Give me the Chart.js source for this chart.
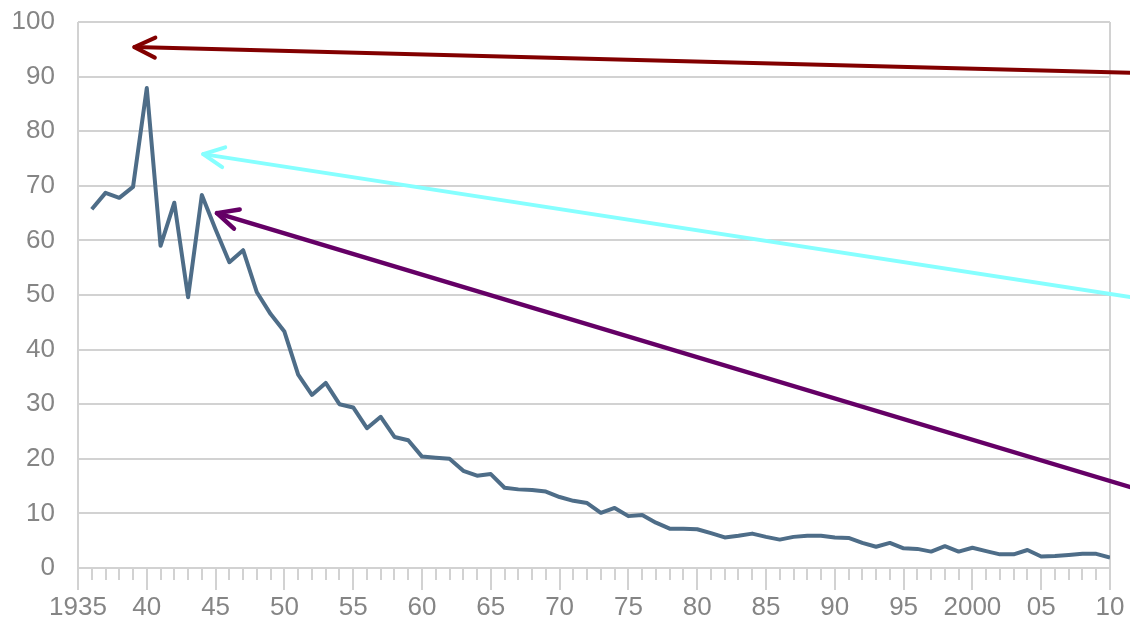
<!DOCTYPE html>
<html>
<head>
<meta charset="utf-8">
<title>Chart</title>
<script src="https://cdn.jsdelivr.net/npm/chart.js@4/dist/chart.umd.min.js"></script>
<style>
  body { margin: 0; background: #fff; }
  canvas { display: block; }
</style>
</head>
<body>
<canvas id="chart" width="1130" height="630"></canvas>
<script>
"use strict";

var $ = function(id) {
    return document.getElementById(id);
};

// values, one per year
var years = [1936, 1937, 1938, 1939, 1940, 1941, 1942, 1943, 1944, 1945,
             1946, 1947, 1948, 1949, 1950, 1951, 1952, 1953, 1954, 1955,
             1956, 1957, 1958, 1959, 1960, 1961, 1962, 1963, 1964, 1965,
             1966, 1967, 1968, 1969, 1970, 1971, 1972, 1973, 1974, 1975,
             1976, 1977, 1978, 1979, 1980, 1981, 1982, 1983, 1984, 1985,
             1986, 1987, 1988, 1989, 1990, 1991, 1992, 1993, 1994, 1995,
             1996, 1997, 1998, 1999, 2000, 2001, 2002, 2003, 2004, 2005,
             2006, 2007, 2008, 2009, 2010];
var values = [65.7, 68.7, 67.8, 69.8, 87.9, 59.0, 66.9, 49.6, 68.3, 62.0,
              56.0, 58.2, 50.5, 46.5, 43.3, 35.4, 31.7, 33.9, 30.0, 29.4,
              25.6, 27.7, 24.0, 23.4, 20.4, 20.2, 20.0, 17.8, 16.9, 17.2,
              14.7, 14.4, 14.3, 14.0, 13.0, 12.3, 11.9, 10.1, 11.0, 9.5,
              9.7, 8.3, 7.2, 7.2, 7.1, 6.4, 5.6, 5.9, 6.3, 5.7,
              5.2, 5.7, 5.9, 5.9, 5.6, 5.5, 4.6, 3.9, 4.6, 3.6,
              3.5, 3.0, 4.0, 3.0, 3.7, 3.1, 2.5, 2.5, 3.3, 2.1,
              2.2, 2.4, 2.6, 2.6, 1.9];

var xLabelYears = [1935, 1940, 1945, 1950, 1955, 1960, 1965, 1970, 1975, 1980,
                   1985, 1990, 1995, 2000, 2005, 2010];
var xLabelText = ['1935', '40', '45', '50', '55', '60', '65', '70', '75', '80',
                  '85', '90', '95', '2000', '05', '10'];

// annotation arrows in data units: [tipYear, tipValue, tailYear, tailValue]
var arrowRed = [1939.1, 95.4, 2011.5, 90.7];
var arrowCyan = [1944.1, 75.8, 2011.5, 49.6];
var arrowPurple = [1945.1, 65.0, 2011.5, 14.8];

var gridGray = '#d2d2d2';
var textGray = '#858585';

var points = [];
for (var i = 0; i < years.length; i++) {
  points.push({x: years[i], y: values[i]});
}

function isMajor(v) {
  return xLabelYears.indexOf(v) !== -1;
}

var extrasPlugin = {
  id: 'extras',
  afterDraw: function(chart) {
    var ctx = chart.ctx;
    var xs = chart.scales.x;
    var ys = chart.scales.y;
    var base = ys.getPixelForValue(0);

    // short ticks for every year
    ctx.save();
    ctx.strokeStyle = gridGray;
    ctx.lineWidth = 2;
    for (var yr = 1936; yr < 2010; yr++) {
      if (isMajor(yr)) continue;
      var px = Math.round(xs.getPixelForValue(yr));
      ctx.beginPath();
      ctx.moveTo(px, base);
      ctx.lineTo(px, base + 12);
      ctx.stroke();
    }
    ctx.restore();

    drawArrow(ctx, xs, ys, arrowRed, '#820000', 4);
    drawArrow(ctx, xs, ys, arrowCyan, '#86ffff', 4);
    drawArrow(ctx, xs, ys, arrowPurple, '#650066', 4.5);
  }
};

function drawArrow(ctx, xs, ys, a, color, width) {
  var tx = xs.getPixelForValue(a[0]);
  var ty = ys.getPixelForValue(a[1]);
  var ex = xs.getPixelForValue(a[2]);
  var ey = ys.getPixelForValue(a[3]);
  var ang = Math.atan2(ey - ty, ex - tx);
  var head = 23;
  var spread = 0.45;
  ctx.save();
  ctx.strokeStyle = color;
  ctx.lineWidth = width;
  ctx.lineCap = 'round';
  ctx.lineJoin = 'round';
  ctx.beginPath();
  ctx.moveTo(ex, ey);
  ctx.lineTo(tx, ty);
  ctx.stroke();
  ctx.beginPath();
  ctx.moveTo(tx + head * Math.cos(ang - spread), ty + head * Math.sin(ang - spread));
  ctx.lineTo(tx, ty);
  ctx.lineTo(tx + head * Math.cos(ang + spread), ty + head * Math.sin(ang + spread));
  ctx.stroke();
  ctx.restore();
}

var myChart = new Chart($('chart').getContext('2d'), {
  type: 'line',
  data: {
    datasets: [{
      data: points,
      borderColor: '#4e6d88',
      borderWidth: 4,
      borderJoinStyle: 'round',
      pointRadius: 0,
      tension: 0,
      fill: false
    }]
  },
  options: {
    responsive: false,
    animation: false,
    devicePixelRatio: 1,
    layout: { padding: { top: 22, right: 20, left: 0, bottom: 0 } },
    plugins: {
      legend: { display: false },
      tooltip: { enabled: false }
    },
    scales: {
      x: {
        type: 'linear',
        min: 1935,
        max: 2010,
        afterBuildTicks: function(scale) {
          scale.ticks = xLabelYears.map(function(v) { return {value: v}; });
        },
        afterFit: function(scale) {
          scale.height = 62;
          scale.paddingLeft = 0;
          scale.paddingRight = 0;
        },
        grid: {
          color: function(c) {
            var v = c.tick && c.tick.value;
            return (v === 1935 || v === 2010) ? gridGray : 'rgba(0,0,0,0)';
          },
          tickColor: gridGray,
          lineWidth: 2,
          tickLength: 22
        },
        border: { display: false },
        ticks: {
          autoSkip: false,
          maxRotation: 0,
          padding: 2,
          color: textGray,
          font: { family: 'Liberation Sans', size: 26 },
          callback: function(v) {
            var k = xLabelYears.indexOf(v);
            return k === -1 ? '' : xLabelText[k];
          }
        }
      },
      y: {
        min: 0,
        max: 100,
        afterFit: function(scale) {
          scale.width = 78;
          scale.paddingTop = 0;
          scale.paddingBottom = 0;
        },
        grid: {
          color: gridGray,
          lineWidth: 2,
          drawTicks: false
        },
        border: { display: false },
        ticks: {
          stepSize: 10,
          padding: 23,
          color: textGray,
          font: { family: 'Liberation Sans', size: 26 }
        }
      }
    }
  },
  plugins: [extrasPlugin]
});
</script>
</body>
</html>
